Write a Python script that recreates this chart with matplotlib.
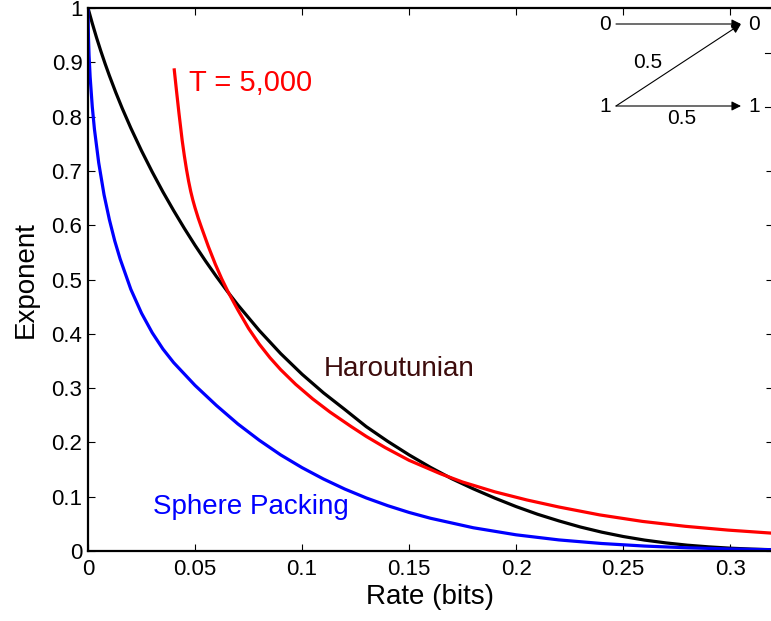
import numpy as np
import matplotlib
matplotlib.use("Agg")
import matplotlib.pyplot as plt
from matplotlib.patches import Rectangle

plt.rcParams['font.family'] = ['Liberation Sans', 'DejaVu Sans']

# Sphere packing bound
sp_rate = [0, 0.0002, 0.0005, 0.001, 0.002, 0.003, 0.005, 0.0075, 0.01, 0.0125,
           0.015, 0.02, 0.025, 0.03, 0.035, 0.04, 0.05, 0.06, 0.07, 0.08,
           0.09, 0.10, 0.11, 0.12, 0.13, 0.14, 0.15, 0.16, 0.18, 0.20,
           0.22, 0.24, 0.26, 0.28, 0.30, 0.32]
sp_exp = [1.0, 0.948, 0.912, 0.873, 0.818, 0.777, 0.715, 0.656, 0.610, 0.571,
          0.538, 0.482, 0.438, 0.402, 0.372, 0.347, 0.305, 0.268, 0.234, 0.204,
          0.177, 0.1535, 0.1326, 0.114, 0.0977, 0.0835, 0.071, 0.0603, 0.0428, 0.0298,
          0.0204, 0.0138, 0.0091, 0.0059, 0.0037, 0.0023]

# Haroutunian bound
har_rate = [0, 0.002, 0.004, 0.006, 0.008, 0.01, 0.013, 0.016, 0.02, 0.025,
            0.03, 0.035, 0.04, 0.045, 0.05, 0.055, 0.06, 0.065, 0.07, 0.08,
            0.09, 0.10, 0.11, 0.12, 0.13, 0.14, 0.15, 0.16, 0.17, 0.18,
            0.19, 0.20, 0.21, 0.22, 0.23, 0.24, 0.25, 0.26, 0.27, 0.28,
            0.29, 0.30, 0.31, 0.32]
har_exp = [1.0, 0.9717, 0.9453, 0.9206, 0.8973, 0.8753, 0.8442, 0.8151, 0.779, 0.7371,
           0.6981, 0.6614, 0.627, 0.5942, 0.563, 0.5335, 0.5054, 0.4786, 0.4532, 0.4061,
           0.3636, 0.3255, 0.2913, 0.2605, 0.229, 0.202, 0.177, 0.154, 0.133, 0.1145,
           0.0975, 0.0818, 0.0677, 0.0554, 0.0442, 0.0347, 0.0267, 0.0201, 0.0149, 0.0107,
           0.0076, 0.0052, 0.0035, 0.0023]

# T = 5,000 curve
t_rate = [0.0403, 0.0413, 0.0425, 0.044, 0.045, 0.046, 0.047, 0.048, 0.049, 0.050,
          0.0515, 0.053, 0.0562, 0.0595, 0.0625, 0.0656, 0.070, 0.075, 0.080, 0.085,
          0.090, 0.097, 0.105, 0.113, 0.123, 0.130, 0.1388, 0.150, 0.1645, 0.175,
          0.19, 0.205, 0.22, 0.239, 0.259, 0.279, 0.299, 0.319, 0.325]
t_exp = [0.886, 0.849, 0.806, 0.756, 0.728, 0.703, 0.681, 0.662, 0.646, 0.632,
         0.613, 0.596, 0.561, 0.528, 0.501, 0.476, 0.444, 0.410, 0.381, 0.356,
         0.334, 0.307, 0.280, 0.256, 0.229, 0.211, 0.1905, 0.167, 0.1425, 0.127,
         0.109, 0.094, 0.081, 0.0665, 0.0545, 0.0455, 0.0385, 0.033, 0.0315]

x_ticks = [0, 0.05, 0.1, 0.15, 0.2, 0.25, 0.3]
x_labels = ["0", "0.05", "0.1", "0.15", "0.2", "0.25", "0.3"]
y_ticks = [0, 0.1, 0.2, 0.3, 0.4, 0.5, 0.6, 0.7, 0.8, 0.9, 1.0]
y_labels = ["0", "0.1", "0.2", "0.3", "0.4", "0.5", "0.6", "0.7", "0.8", "0.9", "1"]

fig = plt.figure(figsize=(7.71, 6.21), dpi=100)
ax = fig.add_axes([88 / 771, 70 / 621, 685 / 771, 543 / 621])

lw = 2.3
ax.plot(har_rate, har_exp, color='black', lw=lw)
ax.plot(sp_rate, sp_exp, color='#0000ff', lw=lw)
ax.plot(t_rate, t_exp, color='#ff0000', lw=lw)

ax.set_xlim(0, 0.32)
ax.set_ylim(0, 1)
ax.set_xticks(x_ticks)
ax.set_xticklabels(x_labels)
ax.set_yticks(y_ticks)
ax.set_yticklabels(y_labels)
ax.tick_params(direction='in', length=5, width=0.8, labelsize=16,
               top=True, right=True)
ax.tick_params(axis='x', pad=6)
ax.tick_params(axis='y', pad=4)
for s in ax.spines.values():
    s.set_linewidth(1.6)

ax.set_xlabel("Rate (bits)", fontsize=20, labelpad=3)
ax.set_ylabel("Exponent", fontsize=20, labelpad=9)

ax.text(0.047, 0.862, "T = 5,000", color='#ff0000', fontsize=21, va='center')
ax.text(0.110, 0.336, "Haroutunian", color='#3d0c0c', fontsize=20, va='center')
ax.text(0.0305, 0.081, "Sphere Packing", color='#0000ff', fontsize=20, va='center')

# channel diagram inset (pixel-like coordinates)
ins = fig.add_axes([594 / 771, 1 - 128 / 621, 177 / 771, 112 / 621])
ins.set_xlim(594, 771)
ins.set_ylim(128, 16)
ins.axis('off')
ins.add_patch(Rectangle((594, 16), 177, 112, color='white', zorder=0))
left_x, right_x = 616, 741
row_y = {"0": 24, "1": 106}
for lab, yy in row_y.items():
    ins.text(605, yy, lab, fontsize=15, ha='center', va='center')
    ins.text(754, yy, lab, fontsize=15, ha='center', va='center')
arrows = [("0", "0"), ("1", "0"), ("1", "1")]
for a, b in arrows:
    ins.annotate("", xy=(right_x, row_y[b]), xytext=(left_x, row_y[a]),
                 arrowprops=dict(arrowstyle='-|>', color='black', lw=0.8,
                                 mutation_scale=14, shrinkA=0, shrinkB=0))
ins.text(648, 63, "0.5", fontsize=15, ha='center', va='center')
ins.text(682, 118, "0.5", fontsize=15, ha='center', va='center')
ins.plot([765, 771], [53, 53], color='black', lw=0.8)
ins.plot([765, 771], [107, 107], color='black', lw=0.8)

fig.savefig("out.png", dpi=100)
